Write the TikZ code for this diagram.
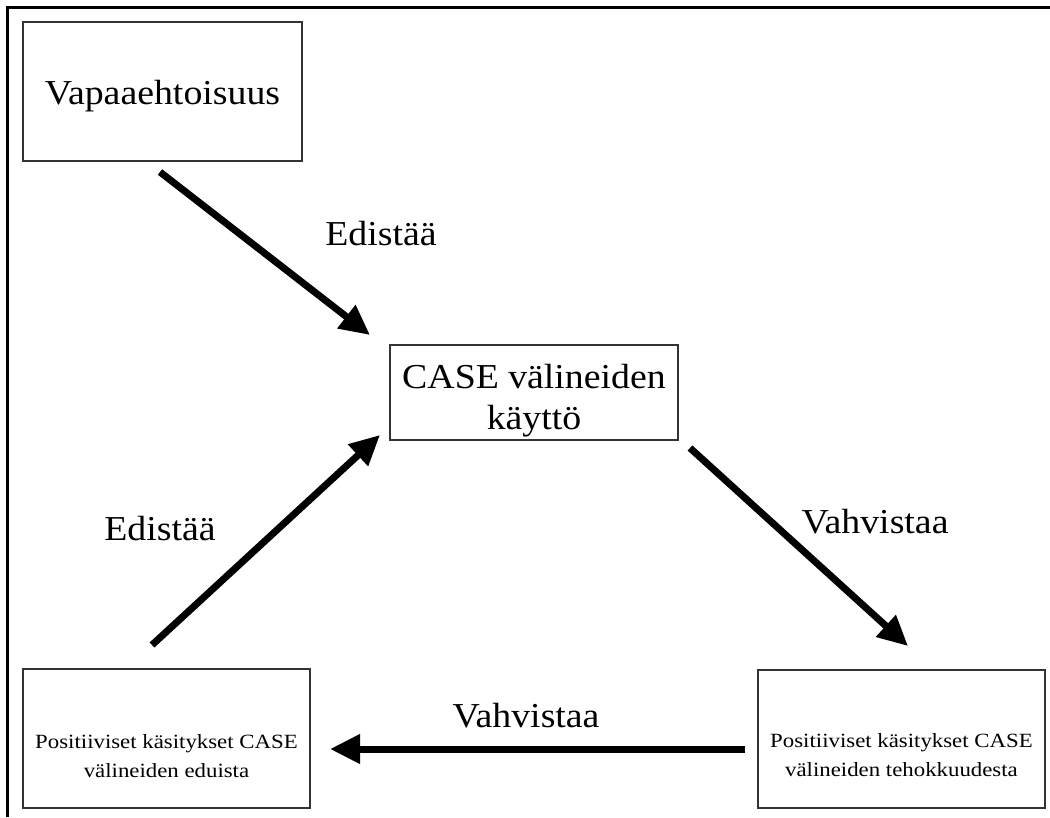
\documentclass[tikz,border=0pt]{standalone}
\usepackage{fontspec}
\setmainfont{Liberation Serif}
\newfontfamily\bigserif[FakeStretch=1.08]{Liberation Serif}
\newfontfamily\smallserif[FakeStretch=1.13]{Liberation Serif}
\usetikzlibrary{arrows.meta}
\begin{document}
\begin{tikzpicture}[x=1pt,y=-1pt,
  box/.style={draw=black!80, line width=2.2pt, inner sep=0pt},
  bigtxt/.style={inner sep=0pt, align=center, font=\bigserif\fontsize{35}{41}\selectfont},
  smalltxt/.style={inner sep=0pt, align=center, font=\smallserif\fontsize{20.2}{29}\selectfont},
  flow/.style={line width=7pt, -{Triangle[length=30pt,width=28pt]}},
]
\useasboundingbox (0,0) rectangle (1050,817);

% outer frame (top and left edges)
\draw[line width=3pt] (7,817) -- (7,7) -- (1050,7);

% boxes
\node[box, minimum width=279pt, minimum height=139pt] (vol) at (162.5,91.5) {};
\node[box, minimum width=288pt, minimum height=95pt] (use) at (534,392.5) {};
\node[box, minimum width=287pt, minimum height=139pt] (ben) at (166.5,738.5) {};
\node[box, minimum width=287pt, minimum height=138pt] (eff) at (901.5,739) {};

% box texts
\node[bigtxt] (volT) at ([yshift=-5pt]vol.center) {Vapaaehtoisuus};
\node[bigtxt] (useT) at ([yshift=-8pt]use.center) {CASE välineiden\\käyttö};
\node[smalltxt] (benT) at ([yshift=-18pt]ben.center) {Positiiviset käsitykset CASE\\välineiden eduista};
\node[smalltxt] (effT) at ([yshift=-16pt]eff.center) {Positiiviset käsitykset CASE\\välineiden tehokkuudesta};

% arrow end points
\coordinate (a1s) at (160,172);
\coordinate (a1e) at (370,335);
\coordinate (a2s) at (152,645);
\coordinate (a2e) at (380,435);
\coordinate (a3s) at (690,448);
\coordinate (a3e) at (908,646);
\coordinate (a4s) at (745,749);
\coordinate (a4e) at (330,749);

\draw[flow] (a1s) -- (a1e);
\draw[flow] (a2s) -- (a2e);
\draw[flow] (a3s) -- (a3e);
\draw[flow] (a4s) -- (a4e);

% arrow labels
\node[bigtxt] (l1) at (381,234) {Edistää};
\node[bigtxt] (l2) at (160,529) {Edistää};
\node[bigtxt] (l3) at (875,522) {Vahvistaa};
\node[bigtxt] (l4) at (526,716) {Vahvistaa};
\end{tikzpicture}
\end{document}
